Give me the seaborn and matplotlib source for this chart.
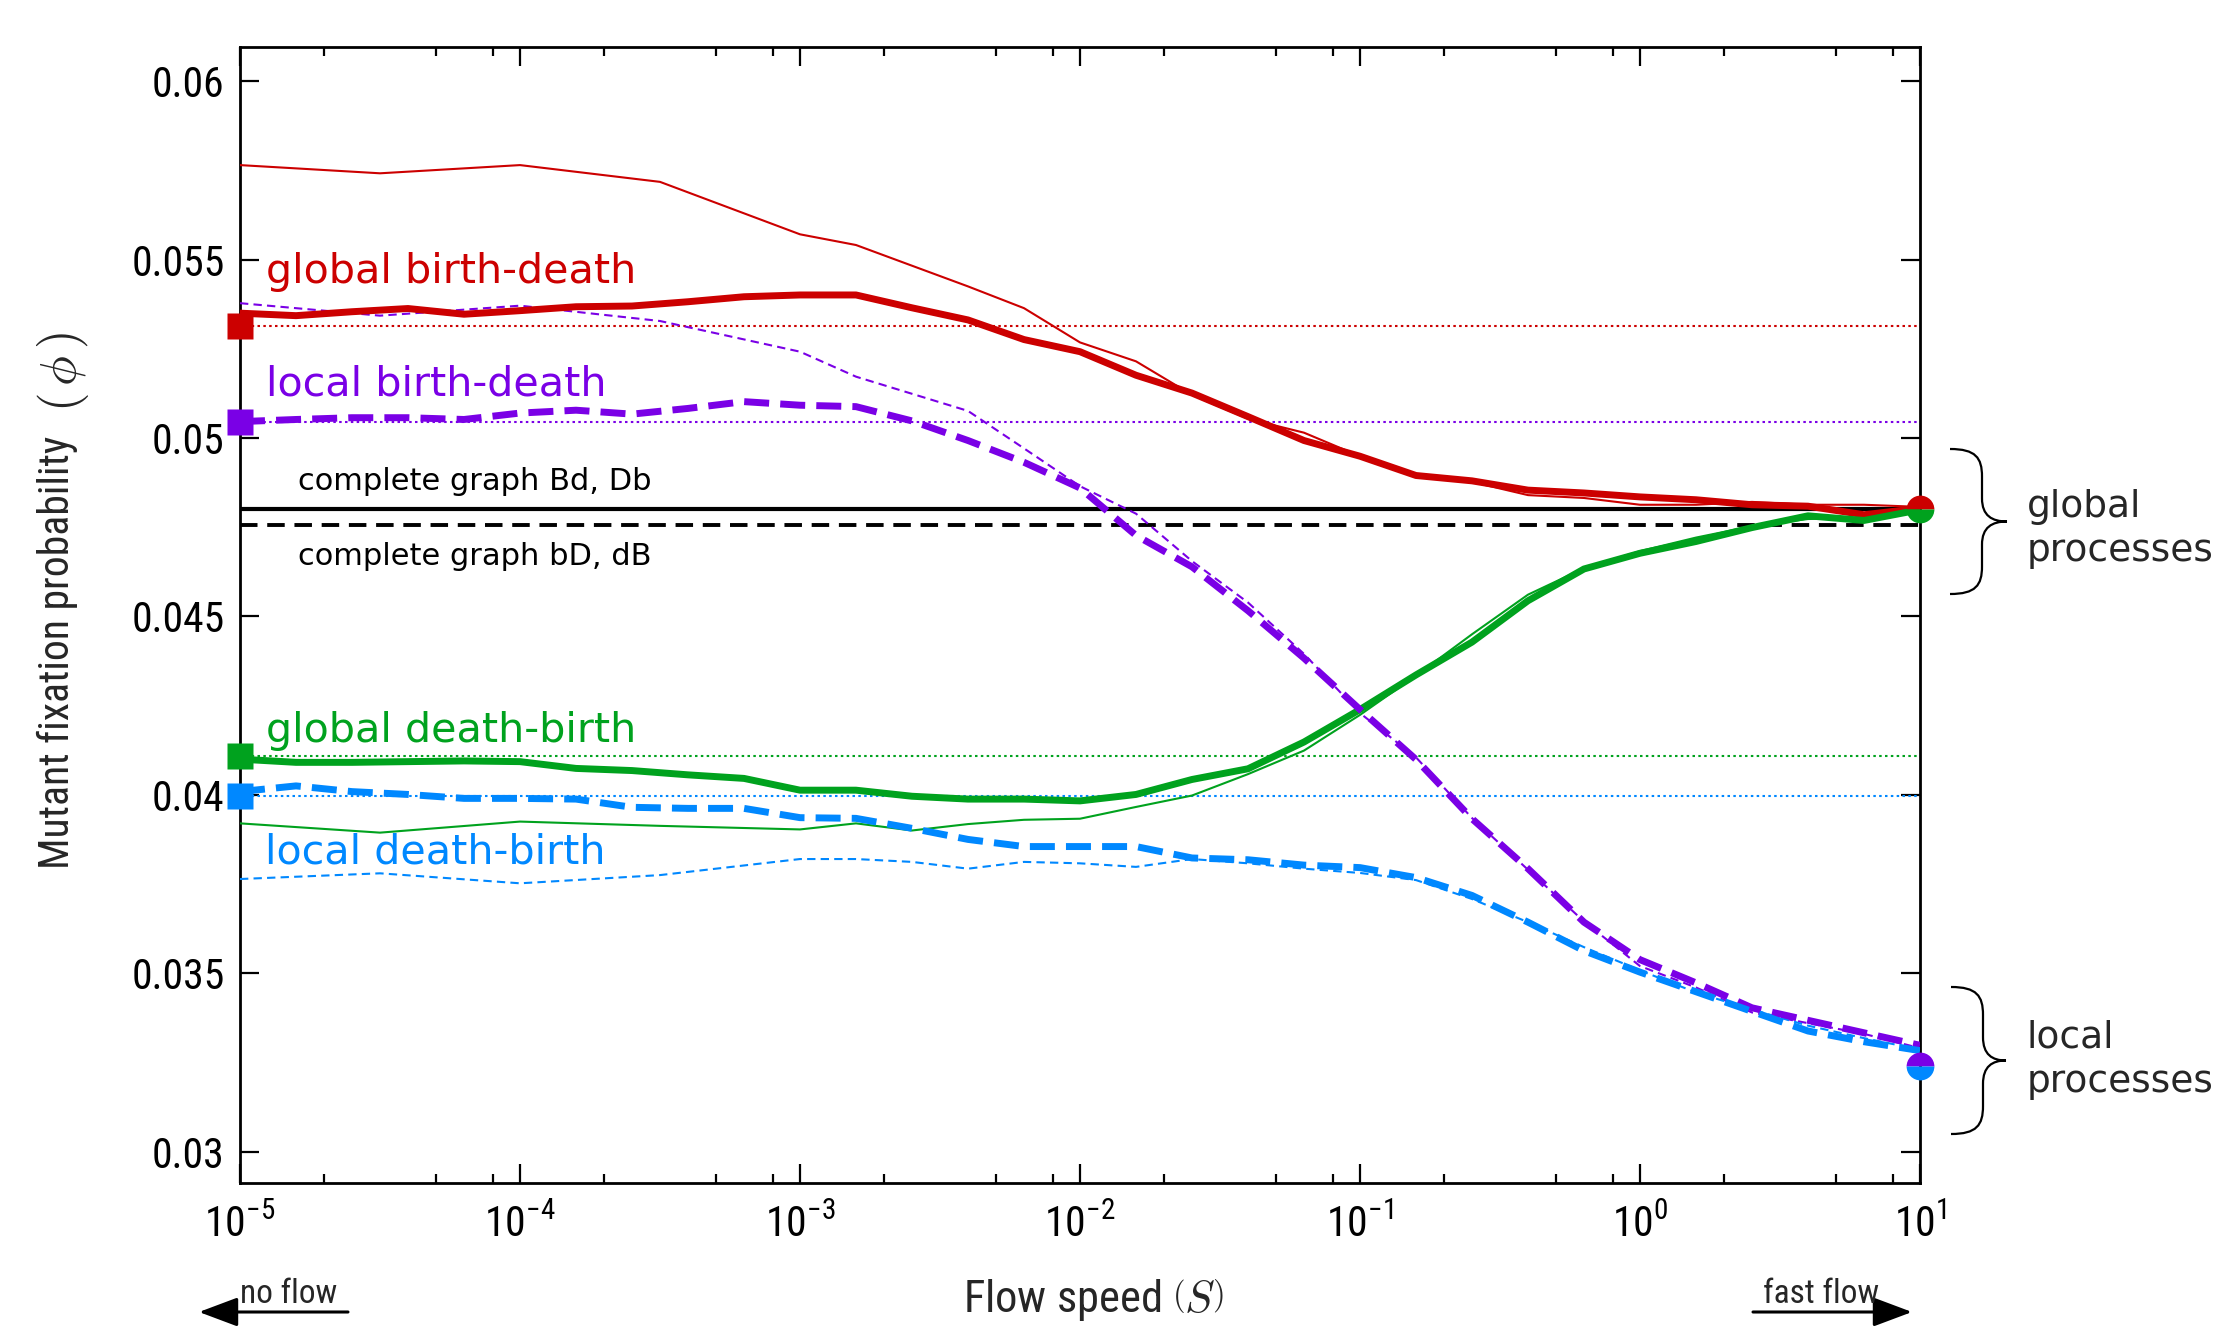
import numpy as np
import pandas as pd
import matplotlib
matplotlib.use("Agg")
import matplotlib.pyplot as plt
import seaborn as sns
from matplotlib import font_manager
from matplotlib.path import Path
from matplotlib.patches import PathPatch, FancyArrowPatch
from matplotlib.ticker import LogLocator, FixedLocator, FixedFormatter, NullFormatter

# ---------------- data ----------------
thick_exp = [-5.0, -4.8, -4.6, -4.4, -4.2, -4.0, -3.8, -3.6, -3.4, -3.2, -3.0,
             -2.8, -2.6, -2.4, -2.2, -2.0, -1.8, -1.6, -1.4, -1.2, -1.0,
             -0.8, -0.6, -0.4, -0.2, 0.0, 0.2, 0.4, 0.6, 0.8, 1.0]
thin_exp = [-5.0, -4.5, -4.0, -3.5, -3.0, -2.8, -2.6, -2.4, -2.2, -2.0, -1.8,
            -1.6, -1.4, -1.2, -1.0, -0.8, -0.6, -0.4, -0.2, 0.0, 0.2, 0.4,
            0.6, 0.8, 1.0]

global_bd_thick = [0.05350, 0.05343, 0.05354, 0.05363, 0.05347, 0.05357, 0.05368,
                   0.05370, 0.05382, 0.05396, 0.05401, 0.05401, 0.05365, 0.05331,
                   0.05276, 0.05242, 0.05176, 0.05126, 0.05060, 0.04993, 0.04949,
                   0.04895, 0.04880, 0.04854, 0.04846, 0.04835, 0.04827, 0.04813,
                   0.04809, 0.04785, 0.04803]
global_bd_thin = [0.05765, 0.05742, 0.05765, 0.05718, 0.05571, 0.05541, 0.05483,
                  0.05425, 0.05364, 0.05268, 0.05215, 0.05121, 0.05054, 0.05015,
                  0.04949, 0.04895, 0.04877, 0.04840, 0.04832, 0.04813, 0.04813,
                  0.04821, 0.04813, 0.04813, 0.04807]

local_bd_thick = [0.05046, 0.05052, 0.05057, 0.05057, 0.05052, 0.05070, 0.05078,
                  0.05067, 0.05083, 0.05102, 0.05092, 0.05088, 0.05048, 0.04993,
                  0.04932, 0.04860, 0.04727, 0.04639, 0.04516, 0.04383, 0.04239,
                  0.04099, 0.03933, 0.03793, 0.03643, 0.03538, 0.03473, 0.03403,
                  0.03368, 0.03333, 0.03298]
local_bd_thin = [0.05378, 0.05343, 0.05371, 0.05328, 0.05242, 0.05172, 0.05124,
                 0.05076, 0.04971, 0.04865, 0.04788, 0.04655, 0.04539, 0.04395,
                 0.04229, 0.04105, 0.03935, 0.03790, 0.03645, 0.03520, 0.03460,
                 0.03390, 0.03360, 0.03330, 0.03290]

global_db_thick = [0.04100, 0.04091, 0.04091, 0.04093, 0.04095, 0.04093, 0.04074,
                   0.04068, 0.04056, 0.04046, 0.04013, 0.04013, 0.03996, 0.03988,
                   0.03988, 0.03983, 0.04001, 0.04043, 0.04073, 0.04148, 0.04239,
                   0.04336, 0.04428, 0.04544, 0.04633, 0.04677, 0.04710, 0.04749,
                   0.04782, 0.04769, 0.04799]
global_db_thin = [0.03920, 0.03894, 0.03925, 0.03913, 0.03903, 0.03920, 0.03900,
                  0.03918, 0.03930, 0.03933, 0.03966, 0.03998, 0.04058, 0.04124,
                  0.04224, 0.04334, 0.04450, 0.04561, 0.04635, 0.04683, 0.04721,
                  0.04753, 0.04773, 0.04777, 0.04799]

local_db_thick = [0.04009, 0.04025, 0.04009, 0.04001, 0.03990, 0.03990, 0.03988,
                  0.03965, 0.03962, 0.03962, 0.03936, 0.03934, 0.03906, 0.03875,
                  0.03855, 0.03855, 0.03855, 0.03823, 0.03818, 0.03803, 0.03796,
                  0.03768, 0.03718, 0.03643, 0.03563, 0.03503, 0.03448, 0.03393,
                  0.03338, 0.03308, 0.03283]
local_db_thin = [0.03764, 0.03780, 0.03752, 0.03775, 0.03820, 0.03820, 0.03812,
                 0.03793, 0.03812, 0.03808, 0.03798, 0.03820, 0.03808, 0.03793,
                 0.03781, 0.03761, 0.03708, 0.03643, 0.03573, 0.03508, 0.03446,
                 0.03398, 0.03353, 0.03318, 0.03286]

process_names = ["global birth-death", "local birth-death",
                 "global death-birth", "local death-birth"]
no_flow_values = [0.05315, 0.05046, 0.04110, 0.03996]   # squares + dotted lines
fast_flow_global = 0.04800
fast_flow_local = 0.03240
complete_graph_values = [0.04800, 0.04757]
complete_graph_labels = ["complete graph Bd, Db", "complete graph bD, dB"]

ytick_values = [0.03, 0.035, 0.04, 0.045, 0.05, 0.055, 0.06]
ytick_labels = ["0.03", "0.035", "0.04", "0.045", "0.05", "0.055", "0.06"]

# ---------------- style ----------------
sns.set_theme(style="ticks")
avail = {f.name for f in font_manager.fontManager.ttflist}
NARROW = "Liberation Sans"
for cand in ["Liberation Sans Narrow", "Roboto Condensed", "Liberation Sans"]:
    if cand in avail:
        NARROW = cand
        break
plt.rcParams["font.family"] = [NARROW, "DejaVu Sans"]
plt.rcParams["axes.unicode_minus"] = False

RED, PURPLE, GREEN, BLUE = "#CC0000", "#7A00E6", "#00A21E", "#0088FF"
colors = [RED, PURPLE, GREEN, BLUE]

W, H = 2235, 1334
fig = plt.figure(figsize=(W / 100, H / 100), dpi=100)
ax = fig.add_axes([240 / W, 1 - 1183 / H, 1680 / W, 1136 / H])
ax.set_xscale("log")

# build data frame
rows = []
def add(name, exps, vals):
    for e, v in zip(exps, vals):
        rows.append({"series": name, "S": 10.0 ** e, "phi": v})
add("gbd_thick", thick_exp, global_bd_thick)
add("gbd_thin", thin_exp, global_bd_thin)
add("lbd_thick", thick_exp, local_bd_thick)
add("lbd_thin", thin_exp, local_bd_thin)
add("gdb_thick", thick_exp, global_db_thick)
add("gdb_thin", thin_exp, global_db_thin)
add("ldb_thick", thick_exp, local_db_thick)
add("ldb_thin", thin_exp, local_db_thin)
df = pd.DataFrame(rows)

xmin, xmax = 1e-5, 10.0
# dotted no-flow reference lines
for v, c in zip(no_flow_values, colors):
    sns.lineplot(x=[xmin, xmax], y=[v, v], ax=ax, color=c, lw=1.5,
                 linestyle=(0, (1.2, 1.6)), zorder=1, errorbar=None)
# complete graph lines
sns.lineplot(x=[xmin, xmax], y=[complete_graph_values[0]] * 2, ax=ax, color="black",
             lw=3.0, zorder=2, errorbar=None)
sns.lineplot(x=[xmin, xmax], y=[complete_graph_values[1]] * 2, ax=ax, color="black",
             lw=2.8, linestyle=(0, (4.5, 2.5)), zorder=2, errorbar=None)

styles = {
    "gbd_thin": (RED, 1.5, "-"),
    "gdb_thin": (GREEN, 1.5, "-"),
    "lbd_thin": (PURPLE, 1.5, (0, (4, 2.5))),
    "ldb_thin": (BLUE, 1.5, (0, (4, 2.5))),
    "gbd_thick": (RED, 5.0, "-"),
    "gdb_thick": (GREEN, 5.0, "-"),
    "lbd_thick": (PURPLE, 5.0, (0, (3.6, 1.6))),
    "ldb_thick": (BLUE, 5.0, (0, (3.6, 1.6))),
}
for i, (name, (c, lw, ls)) in enumerate(styles.items()):
    sub = df[df["series"] == name]
    sns.lineplot(data=sub, x="S", y="phi", ax=ax, color=c, lw=lw, linestyle=ls,
                 zorder=3 if lw < 2 else 4, errorbar=None,
                 solid_joinstyle="round", dash_joinstyle="round")

# markers at no flow
for v, c in zip(no_flow_values, colors):
    ax.plot([xmin], [v], marker="s", ms=19, color=c, mec="none",
            clip_on=False, zorder=6)
# half-filled circles at fast flow
ax.plot([xmax], [fast_flow_global], marker="o", ms=20, fillstyle="top",
        markerfacecolor=RED, markerfacecoloralt=GREEN, mec="none",
        clip_on=False, zorder=6)
ax.plot([xmax], [fast_flow_local], marker="o", ms=20, fillstyle="top",
        markerfacecolor=PURPLE, markerfacecoloralt=BLUE, mec="none",
        clip_on=False, zorder=6)

ax.set_xlim(xmin, xmax)
ax.set_ylim(0.02912, 0.06096)

# ticks
ax.xaxis.set_major_locator(LogLocator(base=10, numticks=20))
ax.xaxis.set_minor_locator(LogLocator(base=10, subs=[2, 5, 8], numticks=40))
ax.xaxis.set_minor_formatter(NullFormatter())
ax.yaxis.set_major_locator(FixedLocator(ytick_values))
ax.yaxis.set_major_formatter(FixedFormatter(ytick_labels))
ax.tick_params(which="both", direction="in", top=True, right=True,
               colors="black", width=1.6)
ax.tick_params(which="major", length=14)
ax.tick_params(which="minor", length=6.5)
ax.tick_params(axis="y", labelsize=30, pad=11)
ax.tick_params(axis="x", labelsize=30, pad=16)
for sp in ax.spines.values():
    sp.set_linewidth(2.0)
    sp.set_color("black")
ax.grid(False)

# axis labels
ax.set_ylabel("Mutant fixation probability", fontsize=30)
ax.yaxis.label.set_va("center")
ax.yaxis.set_label_coords((57 - 240) / 1680, (1183 - 652) / 1136)
fig.text(63 / W, 1 - 372 / H, r"$(\,\phi\,)$", fontsize=36, math_fontfamily="cm",
         rotation=90, ha="center", va="center")
ax.set_xlabel(r"Flow speed $\left(S\right)$", fontsize=32, math_fontfamily="cm")
ax.xaxis.label.set_va("center")
ax.xaxis.set_label_coords(0.508, -0.103)

# in-plot labels (axes fraction from pixel positions)
def axf(x, y):
    return ((x - 240) / 1680, (1183 - y) / 1136)

label_pos = [(266, 283), (266, 395), (266, 742), (265, 863)]
for name, c, (px, py) in zip(process_names, colors, label_pos):
    ax.text(*axf(px, py), name, transform=ax.transAxes, color=c, fontsize=29.7,
            family="DejaVu Sans", va="baseline", ha="left")
for lab, (px, py) in zip(complete_graph_labels, [(298, 490), (298, 565)]):
    ax.text(*axf(px, py), lab, transform=ax.transAxes, color="black", fontsize=22,
            family="DejaVu Sans", va="baseline", ha="left")

# right side braces and labels
def figf(x, y):
    return (x / W, 1 - y / H)

def brace(x0, xm, xt, ytop, ybot):
    ymid = (ytop + ybot) / 2
    h = (ybot - ytop) / 2
    pts = [(x0, ytop),
           (x0 + 0.8 * (xm - x0), ytop), (xm, ytop + 0.12 * h), (xm, ytop + 0.38 * h),
           (xm, ymid - 0.32 * h),
           (xm, ymid - 0.08 * h), (xm + 0.4 * (xt - xm), ymid), (xt, ymid),
           (xm + 0.4 * (xt - xm), ymid), (xm, ymid + 0.08 * h), (xm, ymid + 0.32 * h),
           (xm, ybot - 0.38 * h),
           (xm, ybot - 0.12 * h), (x0 + 0.8 * (xm - x0), ybot), (x0, ybot)]
    codes = [Path.MOVETO, Path.CURVE4, Path.CURVE4, Path.CURVE4, Path.LINETO,
             Path.CURVE4, Path.CURVE4, Path.CURVE4, Path.CURVE4, Path.CURVE4,
             Path.CURVE4, Path.LINETO, Path.CURVE4, Path.CURVE4, Path.CURVE4]
    path = Path([figf(*p) for p in pts], codes)
    fig.add_artist(PathPatch(path, transform=fig.transFigure, fill=False,
                             lw=1.6, edgecolor="black"))

brace(1950, 1982, 2007, 449, 594)
brace(1951, 1983, 2006, 987, 1134)
fig.text(*figf(2027, 561), "global\nprocesses", fontsize=27, family="DejaVu Sans",
         va="baseline", ha="left", linespacing=1.3)
fig.text(*figf(2027, 1092), "local\nprocesses", fontsize=27, family="DejaVu Sans",
         va="baseline", ha="left", linespacing=1.3)

# flow direction arrows
fig.text(*figf(240, 1303), "no flow", fontsize=24, va="baseline", ha="left")
fig.text(*figf(1763, 1303), "fast flow", fontsize=24, va="baseline", ha="left")
for (xa, xb) in [(348, 199), (1753, 1912)]:
    arr = FancyArrowPatch(figf(xa, 1312), figf(xb, 1312), transform=fig.transFigure,
                          arrowstyle="-|>,head_length=0.8,head_width=0.3",
                          mutation_scale=30, lw=2.2, color="black",
                          shrinkA=0, shrinkB=0)
    fig.add_artist(arr)

fig.savefig("out.png", dpi=100)
